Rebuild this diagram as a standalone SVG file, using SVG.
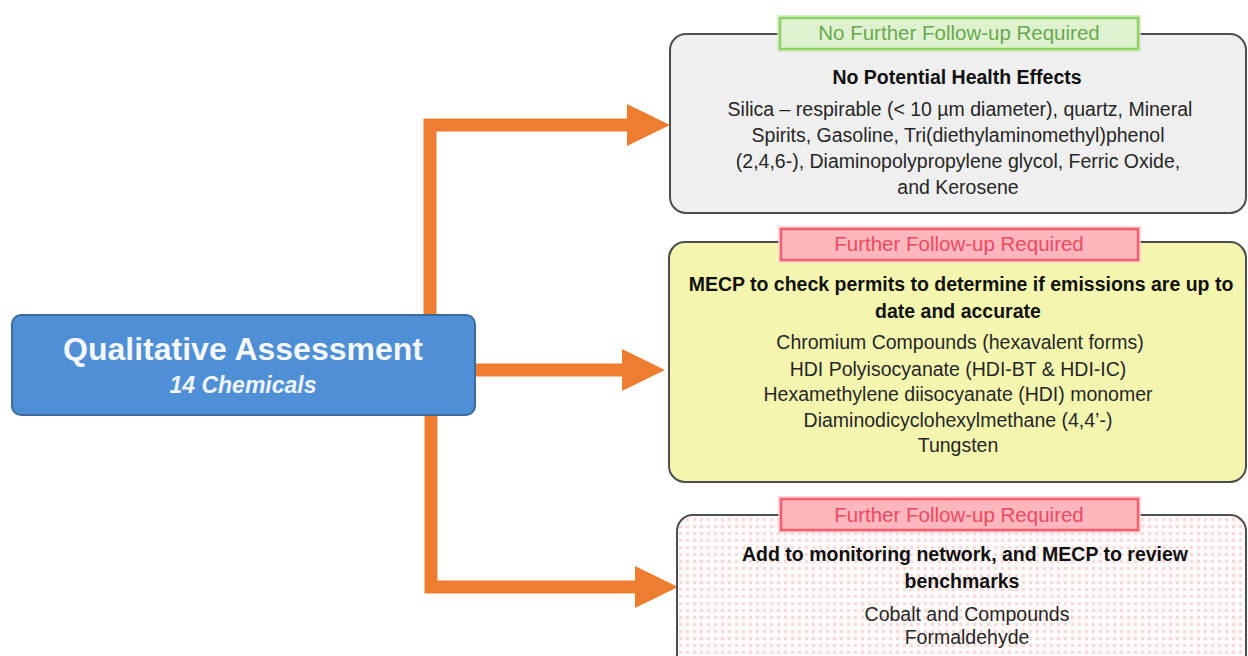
<svg xmlns="http://www.w3.org/2000/svg" width="1248" height="656" viewBox="0 0 1248 656">
  <defs>
    <style>
      text { font-family: "Liberation Sans", Arial, sans-serif; text-anchor: middle; }
      .body { font-size: 19.5px; fill: #262626; }
      .head { font-size: 19.5px; font-weight: bold; fill: #111; }
      .lblG { font-size: 20.5px; fill: #6aa84f; }
      .lblR { font-size: 20.5px; fill: #ec4a62; }
      .conn { fill: none; stroke: #ed7d31; stroke-width: 13; stroke-linejoin: miter; marker-end: url(#arr); }
      .card { stroke: #4d4d4d; stroke-width: 2; }
      .tagG { fill: #def2d0; stroke: #92d06a; stroke-width: 2.5; }
      .tagR { fill: #ffb6bd; stroke: #f0606f; stroke-width: 2.5; }
      .glowG { fill: none; stroke: #c9ecb4; stroke-width: 6; opacity: 0.8; }
      .glowR { fill: none; stroke: #ffc9cf; stroke-width: 6; opacity: 0.8; }
    </style>
    <marker id="arr" viewBox="0 0 43 42" refX="0" refY="21" markerWidth="43" markerHeight="42" markerUnits="userSpaceOnUse" orient="auto">
      <path d="M0,0 L43,21 L0,42 Z" fill="#ed7d31"/>
    </marker>
    <pattern id="dots" width="7" height="7" patternUnits="userSpaceOnUse">
      <rect width="7" height="7" fill="#fffafa"/>
      <rect x="0" y="0" width="3" height="3" fill="#f7d9d9"/>
    </pattern>
  </defs>

  <g id="connectors">
    <polyline class="conn" points="430,330 430,125 627,125"/>
    <polyline class="conn" points="460,370 622,370"/>
    <polyline class="conn" points="431,400 431,587 635,587"/>
  </g>

  <g id="node-qualitative">
    <rect x="12" y="315" width="463" height="100" rx="9" fill="#4e8fd6" stroke="#3d6c9c" stroke-width="2"/>
    <text x="243" y="360" style="font-size:32px;font-weight:bold;fill:#f4f8fc">Qualitative Assessment</text>
    <text x="243" y="393" style="font-size:23px;font-weight:bold;font-style:italic;fill:#eef4fb">14 Chemicals</text>
  </g>

  <g id="node-no-followup">
    <rect class="card" x="670" y="34" width="576" height="179" rx="16" fill="#efefef"/>
    <rect class="glowG" x="780" y="18" width="358" height="31"/>
    <rect class="tagG" x="780" y="18" width="358" height="31"/>
    <text class="lblG" x="959" y="40">No Further Follow-up Required</text>
    <text class="head" x="957" y="84">No Potential Health Effects</text>
    <text class="body" x="960" y="116">Silica – respirable (&lt; 10 µm diameter), quartz, Mineral</text>
    <text class="body" x="958" y="142">Spirits, Gasoline, Tri(diethylaminomethyl)phenol</text>
    <text class="body" x="958" y="168">(2,4,6-), Diaminopolypropylene glycol, Ferric Oxide,</text>
    <text class="body" x="958" y="194">and Kerosene</text>
  </g>

  <g id="node-permits">
    <rect class="card" x="669" y="242" width="577" height="240" rx="16" fill="#f4f6b0"/>
    <rect class="glowR" x="781" y="229" width="357" height="31"/>
    <rect class="tagR" x="781" y="229" width="357" height="31"/>
    <text class="lblR" x="959" y="251">Further Follow-up Required</text>
    <text class="head" x="961" y="291">MECP to check permits to determine if emissions are up to</text>
    <text class="head" x="958" y="318">date and accurate</text>
    <text class="body" x="960" y="349">Chromium Compounds (hexavalent forms)</text>
    <text class="body" x="958" y="376">HDI Polyisocyanate (HDI-BT &amp; HDI-IC)</text>
    <text class="body" x="958" y="401">Hexamethylene diisocyanate (HDI) monomer</text>
    <text class="body" x="958" y="427">Diaminodicyclohexylmethane (4,4’-)</text>
    <text class="body" x="958" y="452">Tungsten</text>
  </g>

  <g id="node-monitoring">
    <rect class="card" x="677" y="515" width="569" height="160" rx="16" fill="url(#dots)"/>
    <rect class="glowR" x="781" y="499" width="357" height="31"/>
    <rect class="tagR" x="781" y="499" width="357" height="31"/>
    <text class="lblR" x="959" y="522">Further Follow-up Required</text>
    <text class="head" x="965" y="561">Add to monitoring network, and MECP to review</text>
    <text class="head" x="962" y="588">benchmarks</text>
    <text class="body" x="967" y="621">Cobalt and Compounds</text>
    <text class="body" x="967" y="644">Formaldehyde</text>
  </g>
</svg>
